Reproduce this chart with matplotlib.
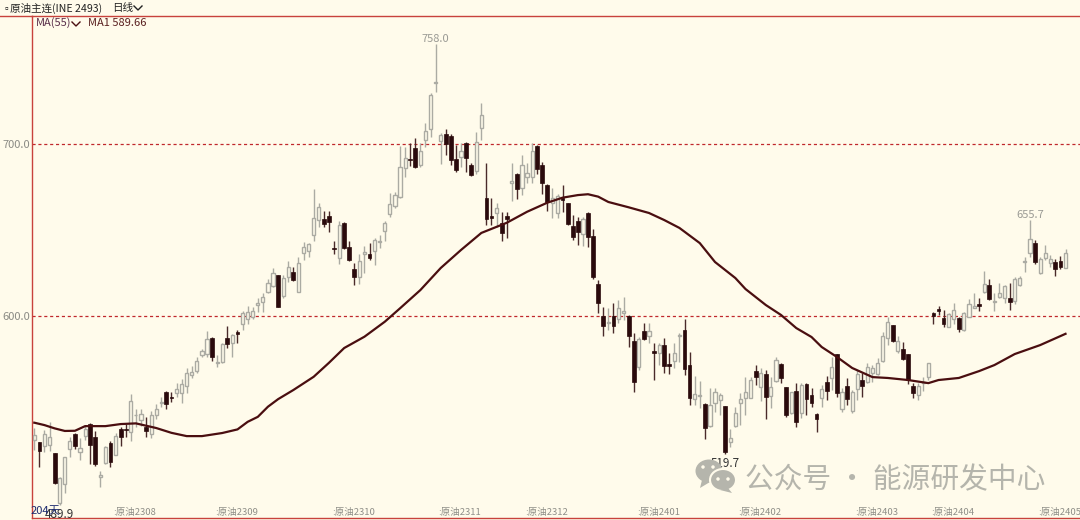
import matplotlib
matplotlib.use("Agg")
import matplotlib.pyplot as plt
from matplotlib.lines import Line2D
from matplotlib.patches import Ellipse, Polygon
from matplotlib.transforms import IdentityTransform, ScaledTranslation

plt.rcParams['font.family'] = ['Noto Sans CJK SC', 'DejaVu Sans']

opens = [527.9,526.5,524.4,525.2,520.2,491.1,502.3,522.5,531.4,521.1,530.2,537.2,529.4,506.4,514.7,526.0,519.4,534.1,534.5,532.4,
542.2,539.5,535.7,531.2,542.2,549.2,555.8,553.1,555.0,555.4,559.5,565.5,568.2,577.1,577.9,587.0,572.9,573.3,587.0,584.5,
590.5,595.3,598.1,599.6,606.2,608.1,614.0,617.6,623.6,611.6,622.9,625.4,614.2,636.4,637.6,647.1,655.8,656.2,658.1,639.7,
633.9,654.1,639.9,627.1,622.9,636.0,636.0,637.6,642.8,649.6,659.3,664.1,669.4,685.9,691.5,697.5,688.0,702.1,708.5,735.3,
701.7,705.6,704.9,691.5,692.2,700.4,687.8,684.1,709.1,668.4,658.1,659.7,653.9,658.1,677.1,682.6,674.2,681.0,681.0,699.0,
687.6,676.4,665.5,659.7,668.4,665.5,652.5,655.4,647.7,660.1,646.7,618.6,599.8,595.7,599.8,598.4,601.9,600.0,585.7,570.2,
591.1,588.2,579.8,578.7,583.1,572.3,574.0,588.6,591.7,571.5,551.9,553.3,548.8,536.2,549.2,551.3,547.7,526.5,536.2,549.2,
552.5,552.5,568.0,558.5,566.1,553.7,562.0,571.9,558.5,543.6,556.6,543.4,560.6,554.3,542.8,552.1,561.4,563.8,577.7,545.7,
559.5,545.0,557.4,562.6,561.8,567.1,566.3,574.0,587.0,594.6,579.8,580.8,577.7,559.5,554.1,561.2,564.3,601.5,604.1,598.6,
593.8,598.4,598.6,591.9,599.6,604.8,607.0,614.1,618.2,608.1,611.0,610.3,610.3,608.9,618.2,631.6,636.8,642.6,624.8,633.5,
631.0,631.2,631.8,628.1]
closes = [531.0,521.5,531.4,529.4,503.1,505.6,517.8,527.5,524.4,523.0,534.1,525.0,514.0,507.4,524.0,515.3,530.4,529.4,533.9,550.8,
542.6,542.8,533.3,542.4,545.7,550.2,548.7,552.5,557.4,560.5,567.1,567.4,573.6,579.8,586.4,576.4,573.3,583.7,583.5,588.8,
589.7,601.6,602.3,602.9,607.4,610.9,619.0,624.8,605.2,621.9,628.3,620.9,631.0,640.3,642.1,656.8,663.2,653.7,654.5,639.0,
652.7,639.3,632.6,622.9,632.0,637.4,633.7,644.2,643.4,653.9,664.9,670.3,686.4,691.7,690.7,686.4,696.1,707.8,728.5,735.9,
705.0,699.8,690.5,684.9,695.9,692.0,682.2,701.2,717.1,656.6,657.0,662.6,648.1,656.2,678.3,674.0,688.0,683.3,695.9,685.5,
677.1,666.5,668.4,670.0,667.4,653.5,646.1,649.0,656.6,645.7,622.9,607.7,594.2,596.5,594.4,604.5,602.9,588.4,561.8,586.6,
586.8,591.1,578.7,582.9,571.1,570.9,578.3,589.1,569.4,552.5,554.6,553.9,534.7,548.2,555.6,554.3,520.7,528.9,543.4,551.7,
555.6,562.8,564.3,566.7,552.9,558.5,574.4,563.7,542.2,555.6,538.4,559.7,551.9,549.4,539.9,557.7,556.4,570.2,555.0,555.8,
551.7,555.6,566.3,559.5,570.5,569.8,572.5,588.4,596.5,585.3,585.5,575.0,562.6,555.4,559.3,561.8,572.5,600.0,603.1,595.1,
601.2,603.3,592.2,601.9,606.8,605.8,605.8,618.6,609.7,608.9,613.2,617.6,608.1,621.7,622.1,632.2,644.6,631.2,633.1,636.8,
633.1,627.3,628.7,636.4]
highs = [534.7,527.0,533.7,538.6,520.5,506.2,518.2,529.4,532.2,528.9,536.6,538.0,533.3,510.1,524.4,527.5,531.8,535.3,537.2,554.6,
545.7,545.7,541.5,545.0,548.8,552.7,556.6,556.0,560.9,563.2,569.6,570.9,576.4,580.6,591.5,587.6,577.3,584.1,594.2,589.5,
591.9,603.1,605.8,605.4,610.3,613.2,621.3,627.7,624.0,623.8,632.0,628.3,634.1,643.0,642.3,673.6,665.9,661.0,661.2,643.8,
655.4,654.5,643.4,630.6,636.0,640.7,642.2,645.2,647.1,655.4,671.3,671.9,698.8,698.4,700.8,703.3,700.4,712.0,729.9,758.0,
706.2,708.9,705.8,699.4,700.4,701.4,688.8,707.2,724.0,689.1,668.4,665.5,660.6,660.6,689.1,683.0,693.6,688.8,700.8,699.4,
689.7,676.7,674.2,671.0,676.0,665.9,658.7,657.4,657.4,660.6,650.4,620.9,605.0,604.5,607.4,609.3,610.8,600.6,589.9,587.6,
596.1,595.7,584.5,584.5,587.0,578.7,584.1,589.9,598.4,579.3,565.1,562.0,549.2,558.0,558.0,555.4,547.9,534.1,547.3,555.0,
564.3,564.7,571.5,569.6,568.6,564.7,576.3,572.8,558.9,556.0,561.2,560.8,561.2,558.0,543.8,559.9,565.1,576.4,577.9,557.9,
563.8,557.0,568.6,566.7,572.5,571.5,575.4,590.9,599.6,594.8,588.4,585.1,577.9,560.9,560.9,564.7,572.5,602.5,605.8,603.5,
601.5,607.4,599.6,602.5,609.7,613.6,610.7,626.2,621.5,613.2,619.0,618.0,619.0,622.5,623.2,634.5,655.7,644.2,634.1,641.3,
635.5,632.9,634.9,638.8]
lows = [522.1,512.4,521.1,521.7,502.3,489.9,497.3,517.8,522.5,516.3,527.9,514.0,512.8,500.8,514.0,512.0,519.0,524.4,529.8,527.5,
535.3,536.0,529.8,528.9,539.9,546.9,546.0,549.8,552.7,549.2,555.4,563.7,566.7,576.4,576.4,574.0,570.2,572.9,581.6,576.0,
584.5,591.9,595.3,598.4,602.3,602.1,613.2,616.7,605.0,610.3,620.0,620.5,614.0,632.6,634.5,643.6,651.6,651.6,649.0,636.0,
630.2,638.8,632.2,617.8,618.6,625.2,632.6,629.8,639.3,643.8,657.4,662.6,668.4,681.0,687.2,685.9,686.8,698.5,704.3,730.2,
688.4,693.4,687.8,683.9,686.4,683.9,681.4,682.6,702.3,652.9,652.9,651.9,643.6,645.2,667.1,667.8,670.4,677.1,677.1,682.6,
671.0,661.2,656.8,656.8,660.6,652.9,644.2,641.3,640.7,639.9,621.3,601.5,588.4,591.8,589.9,596.1,597.7,581.8,555.8,568.6,
586.0,584.5,562.8,571.5,567.0,566.1,569.6,573.4,565.7,548.2,548.2,546.3,528.7,535.7,544.4,542.4,519.7,524.0,535.7,536.6,
542.4,552.1,559.9,550.6,540.1,546.3,561.6,561.2,541.5,543.0,535.3,540.5,542.4,546.9,532.7,547.3,551.2,557.0,553.1,544.4,
548.2,543.4,551.2,553.1,560.9,561.8,565.7,573.4,583.1,585.1,578.7,574.4,560.5,552.1,551.2,556.6,562.8,595.4,600.6,593.4,
593.4,595.4,590.9,591.5,599.2,604.4,603.1,613.2,609.3,602.9,610.3,607.4,603.5,607.0,617.4,625.4,634.1,630.2,624.4,632.6,
628.3,623.3,627.3,627.7]

ma_days = [1,3,5,7,9,11,15,18,21,25,28,31,34,38,41,43,45,47,49,52,56,59,62,66,70,73,77,81,85,89,94,98,102,105,108,110,112,114,118,122,
125,128,132,135,139,141,145,148,151,154,156,159,162,166,169,173,177,179,183,187,190,194,199,204]
ma_values = [538.0,536.6,534.7,533.2,533.3,536.0,536.0,537.2,537.6,534.9,532.1,530.2,530.2,532.0,534.1,538.5,541.4,547.3,551.7,557.0,
564.7,572.8,581.4,588.0,596.7,604.5,615.1,627.9,638.4,648.3,654.2,660.6,665.9,668.8,670.3,670.8,669.4,666.3,663.2,659.9,
655.8,651.2,642.4,631.4,622.1,615.7,606.4,600.6,593.0,587.8,582.0,576.2,569.8,564.5,564.0,562.8,561.0,562.8,564.0,568.0,
571.5,577.9,583.1,589.66]

month_days = [17,37,60,81,98,120,140,163,178,199]
month_labels = [':原油2308',':原油2309',':原油2310',':原油2311',':原油2312',':原油2401',':原油2402',':原油2403',':原油2404',':原油2405']
price_ticks = [600, 700]
high_labels = [(80, 758.0, '758.0', '#9a9a94'), (197, 655.7, '655.7', '#9a9a94')]
low_labels = [(137, 519.7, '519.7', '#333333'), (6, 489.9, '489.9', '#333333')]

BG = '#FFFBEB'
RED = '#C8423C'
UP_EDGE = '#ABABA3'
DOWN = '#2A0A0C'
DOWN_WICK = '#4A2A2A'

W, H = 1080, 520
fig = plt.figure(figsize=(W/100, H/100), dpi=100, facecolor=BG)
ax = fig.add_axes([32/W, 2/H, 1048/W, 502/H], facecolor=BG)
ax.set_xlim(0.547, 206.85)
ax.set_ylim(482.6, 774.4)

days = list(range(1, len(opens)+1))
up_d = [d for d, o, c in zip(days, opens, closes) if c >= o]
dn_d = [d for d, o, c in zip(days, opens, closes) if c < o]

ax.vlines(up_d, [lows[d-1] for d in up_d], [highs[d-1] for d in up_d], color=UP_EDGE, lw=1.0, zorder=2)
ax.vlines(dn_d, [lows[d-1] for d in dn_d], [highs[d-1] for d in dn_d], color=DOWN_WICK, lw=1.0, zorder=2)
ax.bar(up_d, [closes[d-1]-opens[d-1] for d in up_d], bottom=[opens[d-1] for d in up_d], width=0.62,
       facecolor=BG, edgecolor=UP_EDGE, lw=1.0, zorder=3)
ax.bar(dn_d, [closes[d-1]-opens[d-1] for d in dn_d], bottom=[opens[d-1] for d in dn_d], width=0.74,
       facecolor=DOWN, edgecolor=DOWN, lw=0.5, zorder=3)
ax.plot(ma_days, ma_values, color='#4A0E10', lw=1.6, zorder=4, solid_joinstyle='round')

ax.set_yticks(price_ticks, [f'{p:.1f}' for p in price_ticks])
ax.set_xticks(month_days, month_labels, ha='left')
ax.tick_params(axis='y', length=0, pad=1.5, labelsize=8, labelcolor='#8a8a84')
ax.tick_params(axis='x', length=0, pad=-7, labelsize=6.8, labelcolor='#8f8f88')
shift = ScaledTranslation(-2.0/100, 0, fig.dpi_scale_trans)
for lab in ax.get_xticklabels():
    lab.set_transform(lab.get_transform() + shift)
ax.grid(axis='y', color='#C0282C', lw=0.9, ls=(0, (2.5, 2.2)), zorder=1)
ax.grid(axis='x', visible=False)
for s in ['left', 'bottom', 'top']:
    ax.spines[s].set_color(RED)
    ax.spines[s].set_linewidth(1.0)
ax.spines['right'].set_visible(False)
fig.add_artist(Line2D([0, 32/W], [504/H, 504/H], color=RED, lw=1.0))

for d, p, s, col in high_labels:
    ax.annotate(s, (d, p), xytext=(0, 0.5), textcoords='offset points', ha='center', va='bottom',
                fontsize=8, color=col, zorder=6)
for d, p, s, col in low_labels:
    ax.annotate(s, (d, p), xytext=(0, -2), textcoords='offset points', ha='center', va='top',
                fontsize=8.4, color=col, zorder=6)

def T(px, py, s, **kw):
    fig.text(px/W, 1-py/H, s, va='center', **kw)

def chevron(px, py, col):
    fig.add_artist(Line2D([(px-4)/W, px/W, (px+4)/W], [1-(py-2)/H, 1-(py+2)/H, 1-(py-2)/H], color=col, lw=1.0))

T(1, 8, '▫', fontsize=7, color='#222222')
T(10, 8, '原油主连(INE 2493)', fontsize=7.6, color='#222222')
T(112, 8, '日线', fontsize=7.6, color='#222222')
chevron(138, 8, '#222222')
T(36, 23, 'MA(55)', fontsize=8, color='#5A2F4A')
chevron(76, 24, '#4A0E10')
T(88, 23, 'MA1 589.66', fontsize=8, color='#5A2020')
T(31, 511, '204天', fontsize=8, color='#1C2A6E')

WM = '#B5B5AC'
T(745, 480, '公众号 · 能源研发中心', fontsize=20.7, color=WM)
tr = IdentityTransform()
fig.add_artist(Ellipse((709, H-471), 27, 23, facecolor=WM, edgecolor='none', transform=tr))
fig.add_artist(Polygon([(702, H-480), (700, H-488), (710, H-482)], facecolor=WM, edgecolor='none', transform=tr))
fig.add_artist(Ellipse((723, H-480), 26, 22, facecolor=WM, edgecolor=BG, lw=1.5, transform=tr))
fig.add_artist(Polygon([(728, H-488), (732, H-493), (720, H-490)], facecolor=WM, edgecolor='none', transform=tr))
for ex, ey in [(703, 467), (713, 467), (718, 479), (728, 479)]:
    fig.add_artist(Ellipse((ex, H-ey), 3.5, 3.5, facecolor=BG, edgecolor='none', transform=tr))

fig.savefig('out.png', dpi=100, facecolor=BG)
